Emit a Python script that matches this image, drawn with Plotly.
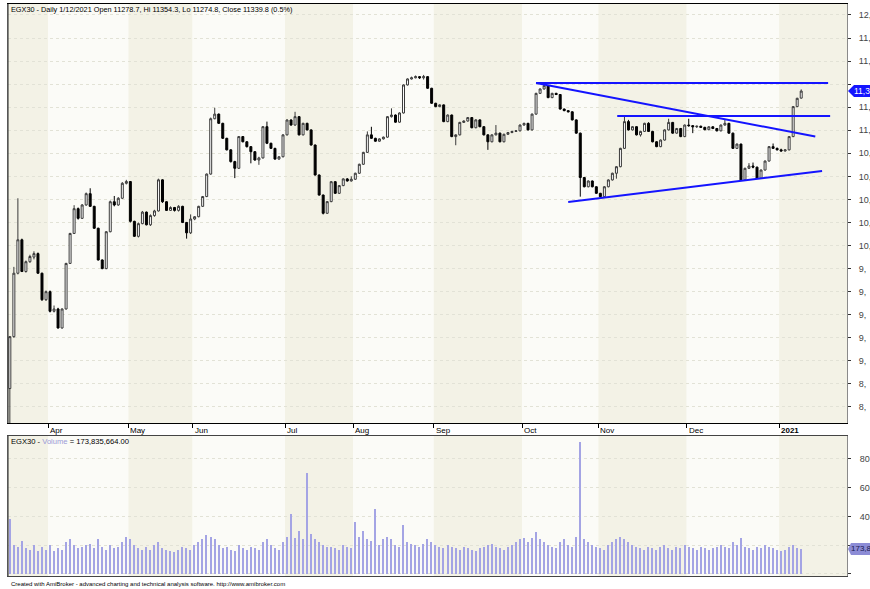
import plotly.graph_objects as go

# ---------------- data (EGX30 daily, bar index 0 = mid-March 2020) ----------------
opens = [8760, 9210, 9760, 10050, 9775, 9860, 9900, 9930, 9760, 9530,
         9600, 9430, 9450, 9285, 9450, 9845, 10105, 10320, 10236, 10352,
         10450, 10340, 10150, 9875, 9800, 10120, 10380, 10352, 10410, 10540,
         10555, 10210, 10080, 10190, 10290, 10180, 10260, 10300, 10570, 10380,
         10305, 10330, 10305, 10340, 10200, 10110, 10230, 10250, 10340, 10425,
         10620, 11100, 11140, 11060, 10930, 10830, 10728, 10670, 10945, 10900,
         10858, 10814, 10742, 10760, 11031, 10887, 10843, 10750, 10770, 10960,
         11089, 11045, 11118, 10960, 11060, 11003, 10872, 10612, 10438, 10280,
         10381, 10554, 10453, 10520, 10578, 10560, 10575, 10627, 10705, 10808,
         10960, 10930, 10905, 10925, 10940, 11118, 11132, 11070, 11150, 11393,
         11445, 11455, 11465, 11455, 11465, 11364, 11234, 11205, 11220, 11075,
         11132, 10945, 10960, 11068, 11080, 11110, 11022, 11090, 11031, 10960,
         10900, 10960, 10975, 10900, 10965, 10980, 10990, 10995, 11045, 11060,
         11003, 11140, 11320, 11358, 11387, 11283, 11320, 11310, 11184, 11170,
         11160, 11090, 10975, 10590, 10510, 10560, 10510, 10453, 10424, 10510,
         10569, 10627, 10684, 10843, 11075, 11003, 11031, 10960, 10990, 11060,
         10990, 10900, 10858, 10915, 11003, 11068, 10975, 11015, 10945, 11045,
         11040, 11030, 11035, 11025, 11005, 11030, 11015, 10995, 11045, 11060,
         10975, 10843, 10880, 10569, 10670, 10690, 10680, 10583, 10655, 10733,
         10858, 10843, 10830, 10820, 10830, 10945, 11205, 11278.7]
highs = [9215, 9815, 10410, 10060, 9870, 9920, 9950, 9940, 9765, 9610,
         9610, 9480, 9460, 9455, 9850, 10110, 10350, 10330, 10360, 10460,
         10497, 10345, 10155, 9880, 10125, 10390, 10430, 10420, 10550, 10570,
         10560, 10215, 10200, 10300, 10295, 10270, 10310, 10580, 10575, 10385,
         10340, 10335, 10350, 10345, 10205, 10270, 10255, 10345, 10430, 10625,
         11110, 11195, 11145, 11065, 10935, 10835, 10735, 10950, 10950, 10905,
         10862, 10818, 10770, 11035, 11075, 10892, 10848, 10775, 10965, 11095,
         11095, 11160, 11122, 11065, 11065, 11008, 10876, 10616, 10442, 10385,
         10560, 10558, 10525, 10583, 10585, 10600, 10632, 10710, 10813, 10990,
         11030, 10935, 10930, 10945, 11123, 11190, 11137, 11155, 11398, 11450,
         11465, 11475, 11470, 11480, 11470, 11368, 11238, 11225, 11224, 11137,
         11136, 10965, 11073, 11085, 11115, 11114, 11095, 11094, 11035, 10964,
         10965, 11045, 10979, 10970, 10985, 10995, 11000, 11050, 11065, 11064,
         11145, 11325, 11363, 11400, 11391, 11325, 11325, 11314, 11188, 11175,
         11164, 11094, 10979, 10594, 10565, 10564, 10514, 10457, 10515, 10574,
         10632, 10689, 10848, 11120, 11090, 11036, 11035, 10995, 11065, 11070,
         10995, 10905, 10920, 11008, 11100, 11072, 11020, 11020, 11050, 11100,
         11045, 11040, 11040, 11030, 11035, 11035, 11020, 11050, 11095, 11064,
         10979, 10885, 10884, 10675, 10715, 10720, 10684, 10660, 10738, 10863,
         10885, 10850, 10840, 10835, 10950, 11210, 11282, 11354.3]
lows = [8420, 9200, 9750, 9770, 9765, 9850, 9880, 9755, 9520, 9520,
        9420, 9420, 9280, 9280, 9445, 9840, 10100, 10225, 10230, 10345,
        10335, 10145, 9870, 9795, 9795, 10115, 10340, 10345, 10405, 10530,
        10200, 10075, 10070, 10185, 10175, 10170, 10250, 10295, 10370, 10300,
        10300, 10295, 10295, 10195, 10060, 10100, 10220, 10245, 10335, 10420,
        10615, 11095, 11055, 10925, 10825, 10720, 10585, 10665, 10895, 10850,
        10713, 10735, 10700, 10755, 10880, 10838, 10745, 10745, 10765, 10955,
        11040, 11040, 10955, 10955, 10998, 10867, 10607, 10433, 10270, 10275,
        10376, 10448, 10448, 10515, 10555, 10555, 10570, 10622, 10700, 10803,
        10925, 10900, 10900, 10920, 10935, 11110, 11065, 11065, 11145, 11388,
        11440, 11450, 11445, 11440, 11359, 11229, 11200, 11200, 11070, 11070,
        10940, 10870, 10955, 11063, 11075, 11017, 11017, 11026, 10955, 10830,
        10895, 10955, 10895, 10895, 10960, 10975, 10985, 10990, 11040, 10998,
        10998, 11135, 11315, 11353, 11278, 11278, 11305, 11179, 11165, 11155,
        11085, 10970, 10424, 10505, 10505, 10505, 10448, 10419, 10419, 10505,
        10564, 10580, 10679, 10838, 10998, 10998, 10955, 10945, 10985, 10985,
        10895, 10853, 10853, 10910, 10998, 10970, 10970, 10940, 10940, 11030,
        10975, 11020, 11020, 11000, 11000, 11010, 10990, 10990, 11040, 10970,
        10838, 10838, 10564, 10560, 10665, 10670, 10578, 10578, 10650, 10728,
        10838, 10825, 10815, 10815, 10825, 10940, 11200, 11274.8]
closes = [9210, 9760, 10050, 9775, 9860, 9905, 9930, 9760, 9530, 9600,
          9430, 9450, 9285, 9450, 9845, 10105, 10320, 10236, 10352, 10450,
          10340, 10150, 9875, 9800, 10120, 10380, 10352, 10410, 10540, 10555,
          10210, 10080, 10190, 10290, 10180, 10260, 10300, 10570, 10380, 10305,
          10330, 10305, 10340, 10200, 10110, 10230, 10250, 10340, 10425, 10620,
          11100, 11140, 11060, 10930, 10830, 10728, 10670, 10945, 10900, 10858,
          10814, 10742, 10760, 11031, 10887, 10843, 10750, 10770, 10960, 11089,
          11045, 11118, 10960, 11060, 11003, 10872, 10612, 10438, 10280, 10381,
          10554, 10453, 10520, 10578, 10560, 10575, 10627, 10705, 10808, 10960,
          10930, 10905, 10925, 10940, 11118, 11132, 11070, 11150, 11393, 11445,
          11455, 11465, 11455, 11465, 11364, 11234, 11205, 11220, 11075, 11132,
          10945, 10960, 11068, 11080, 11110, 11022, 11090, 11031, 10960, 10900,
          10960, 10975, 10900, 10965, 10980, 10990, 10995, 11045, 11060, 11003,
          11140, 11320, 11358, 11387, 11283, 11320, 11310, 11184, 11170, 11160,
          11090, 10975, 10590, 10510, 10560, 10510, 10453, 10424, 10510, 10569,
          10627, 10684, 10843, 11075, 11003, 11031, 10960, 10990, 11060, 10990,
          10900, 10858, 10915, 11003, 11068, 10975, 11015, 10945, 11045, 11040,
          11030, 11035, 11025, 11005, 11030, 11015, 10995, 11045, 11060, 10975,
          10843, 10880, 10569, 10670, 10690, 10680, 10583, 10655, 10733, 10858,
          10843, 10830, 10820, 10830, 10945, 11205, 11277, 11339.8]
# volume in millions of shares
volumes_m = [380, 200, 190, 230, 180, 170, 200, 160, 190, 170,
             200, 160, 180, 170, 220, 240, 200, 180, 190, 200,
             210, 180, 240, 190, 170, 200, 180, 190, 220, 260,
             240, 200, 180, 170, 190, 170, 200, 220, 180, 170,
             160, 150, 170, 190, 180, 170, 200, 220, 240, 270,
             260, 240, 200, 180, 190, 170, 160, 200, 180, 170,
             190, 180, 170, 220, 240, 200, 180, 170, 220, 260,
             420, 250, 300, 240, 700, 280, 240, 220, 200, 190,
             190, 180, 170, 200, 190, 180, 360, 260, 300, 240,
             230, 455, 200, 240, 260, 240, 200, 190, 340, 220,
             210, 200, 190, 210, 240, 220, 200, 190, 180, 200,
             190, 180, 170, 190, 180, 170, 160, 180, 190, 200,
             210, 190, 180, 170, 190, 200, 220, 240, 250, 220,
             250, 290, 240, 220, 200, 190, 180, 220, 240, 200,
             190, 260, 920, 240, 220, 200, 190, 180, 170, 200,
             220, 240, 260, 240, 220, 200, 190, 180, 170, 190,
             180, 170, 190, 200, 180, 170, 190, 180, 200, 190,
             180, 170, 190, 180, 170, 180, 190, 200, 190, 180,
             220, 200, 250, 190, 180, 170, 190, 180, 200, 190,
             180, 170, 160, 170, 190, 200, 180, 173.835664]

month_labels = ["Apr", "May", "Jun", "Jul", "Aug", "Sep", "Oct", "Nov", "Dec", "2021"]
month_start_bar = [10, 30, 46, 69, 86, 106, 128, 147, 169, 192]
price_ticks = [8600, 8800, 9000, 9200, 9400, 9600, 9800, 10000, 10200, 10400,
               10600, 10800, 11000, 11200, 11400, 11600, 11800, 12000]
# right-hand labels as far as they are visible at the window edge
# (the 11,400 label sits under the last-close marker)
price_tick_labels = ["8,", "8,", "9,", "9,", "9,", "9,", "9,", "10,", "10,", "10,",
                     "10,", "10,", "11,", "11,", "", "11,", "11,", "12,"]
vol_ticks = [0, 200, 400, 600, 800]
vol_tick_labels = ["", "", "40", "60", "80"]
last_close_label = "11,3"
last_volume_label = "173,8"

# trend lines drawn by the analyst: (bar index, price) pairs
trend_lines = [
    ((131.0, 11410), (203.7, 11410)),
    ((131.0, 11410), (200.5, 10946)),
    ((151.2, 11124), (204.2, 11124)),
    ((139.0, 10378), (202.2, 10647)),
]

title_text = "EGX30 - Daily 1/12/2021 Open 11278.7, Hi 11354.3, Lo 11274.8, Close 11339.8 (0.5%)"
last_volume_text = "173,835,664.00"
footer_text = "Created with AmiBroker - advanced charting and technical analysis software. http://www.amibroker.com"

# ---------------- figure ----------------
W, H = 870, 589
M_L, M_R, M_T, M_B = 8, 23, 4, 13
plot_h = H - M_T - M_B


def px_to_paper(ypx):
    return (H - M_B - ypx) / plot_h


price_dom = [px_to_paper(423), 1.0]
vol_dom = [0.0, px_to_paper(436)]

XR = [-0.46, 208.4]
FONT = "Liberation Sans, Arial, sans-serif"
BEIGE = "#f3f2e6"
LIGHT = "#fbfbf7"
VOL_COLOR = "#a4a4e4"
BLUE = "#1414ff"

n = len(closes)
idx = list(range(n))

fig = go.Figure()
fig.add_trace(go.Candlestick(
    x=idx, open=opens, high=highs, low=lows, close=closes,
    increasing=dict(line=dict(color="#3a3a3a", width=1), fillcolor="#ffffff"),
    decreasing=dict(line=dict(color="#000000", width=1), fillcolor="#000000"),
    whiskerwidth=0, xaxis="x", yaxis="y", showlegend=False, hoverinfo="skip"))

fig.add_trace(go.Bar(
    x=idx, y=volumes_m, width=0.35, marker=dict(color=VOL_COLOR, line=dict(width=0)),
    xaxis="x2", yaxis="y2", showlegend=False, hoverinfo="skip"))

shapes = []
bounds = [XR[0]] + [b - 0.5 for b in month_start_bar] + [XR[1]]
for k in range(len(bounds) - 1):
    col = BEIGE if k % 2 == 0 else LIGHT
    for yr in ("y domain", "y2 domain"):
        shapes.append(dict(type="rect", xref="x", yref=yr, x0=bounds[k], x1=bounds[k + 1],
                           y0=0, y1=1, fillcolor=col, line=dict(width=0), layer="below"))

# dark left border of both panes
for yr in ("y domain", "y2 domain"):
    shapes.append(dict(type="line", xref="paper", yref=yr, x0=0, x1=0, y0=0, y1=1,
                       line=dict(color="#222", width=1), layer="above"))

for (x0, y0), (x1, y1) in trend_lines:
    shapes.append(dict(type="line", xref="x", yref="y", x0=x0, y0=y0, x1=x1, y1=y1,
                       line=dict(color=BLUE, width=2), layer="above"))

# value markers on the right axes
shapes.append(dict(type="path", xref="paper", yref="y", xsizemode="pixel", ysizemode="pixel",
                   xanchor=1, yanchor=closes[-1],
                   path="M1,0 L7,6 L60,6 L60,-6 L7,-6 Z",
                   fillcolor=BLUE, line=dict(width=0), layer="above"))
shapes.append(dict(type="path", xref="paper", yref="y2", xsizemode="pixel", ysizemode="pixel",
                   xanchor=1, yanchor=volumes_m[-1],
                   path="M1,0 L4,6 L60,6 L60,-6 L4,-6 Z",
                   fillcolor="#8c8cd6", line=dict(width=0), layer="above"))

annotations = [
    dict(text=title_text, xref="paper", yref="paper", x=0, y=px_to_paper(9), xanchor="left",
         yanchor="middle", xshift=1, showarrow=False,
         font=dict(size=7.3, color="#000", family=FONT)),
    dict(text="EGX30 - <span style='color:#9a9ad6'>Volume</span> = " + last_volume_text,
         xref="paper", yref="paper", x=0, y=px_to_paper(441), xanchor="left", yanchor="middle",
         xshift=1, showarrow=False, font=dict(size=7.6, color="#000", family=FONT)),
    dict(text=footer_text, xref="paper", yref="paper", x=0, y=px_to_paper(584), xanchor="left",
         yanchor="middle", xshift=1, showarrow=False, font=dict(size=6, color="#000", family=FONT)),
    dict(text=last_close_label, xref="paper", yref="y", x=1, y=closes[-1], xanchor="left",
         yanchor="middle", xshift=5, showarrow=False,
         font=dict(size=8.5, color="#fff", family=FONT)),
    dict(text=last_volume_label, xref="paper", yref="y2", x=1, y=volumes_m[-1],
         xanchor="left", yanchor="middle", xshift=2, showarrow=False,
         font=dict(size=8, color="#1a1a50", family=FONT)),
]
for lab, b in zip(month_labels, month_start_bar):
    annotations.append(dict(text=("<b>%s</b>" % lab) if lab == "2021" else lab,
                            xref="x", yref="paper", x=b - 0.5, y=px_to_paper(430),
                            xanchor="left", yanchor="middle", xshift=0, showarrow=False,
                            font=dict(size=8, color="#000", family=FONT)))

fig.update_layout(
    width=W, height=H, margin=dict(l=M_L, r=M_R, t=M_T, b=M_B),
    paper_bgcolor="#ffffff", plot_bgcolor="rgba(0,0,0,0)",
    template="none", showlegend=False, bargap=0, dragmode=False,
    shapes=shapes, annotations=annotations,
    xaxis=dict(domain=[0, 1], range=XR, anchor="y", tickvals=[b - 0.5 for b in month_start_bar],
               ticks="outside", ticklen=4, tickcolor="#000", showticklabels=False,
               showgrid=False, zeroline=False, showline=True, linecolor="#000", linewidth=1,
               mirror=True, rangeslider=dict(visible=False), fixedrange=True),
    yaxis=dict(domain=price_dom, range=[8461, 12095], side="right", anchor="x",
               tickvals=price_ticks, ticktext=price_tick_labels, ticks="outside", ticklen=3,
               ticklabelstandoff=6, tickcolor="#333",
               tickfont=dict(size=9, color="#444", family=FONT),
               showgrid=True, gridcolor="#e2e2d6", griddash="dot", gridwidth=1,
               zeroline=False, showline=True, linecolor="#8a8a8a", mirror=True,
               automargin=False, fixedrange=True),
    xaxis2=dict(domain=[0, 1], range=XR, anchor="y2", matches="x", showticklabels=False,
                ticks="", showgrid=False, zeroline=False, showline=True, linecolor="#444",
                mirror=True, fixedrange=True),
    yaxis2=dict(domain=vol_dom, range=[-14, 959], side="right", anchor="x2",
                tickvals=vol_ticks, ticktext=vol_tick_labels, ticks="outside", ticklen=3,
                ticklabelstandoff=7, tickcolor="#333",
                tickfont=dict(size=9, color="#444", family=FONT),
                showgrid=True, gridcolor="#e2e2d6", griddash="dot", zeroline=False,
                showline=True, linecolor="#8a8a8a", mirror=True, automargin=False,
                fixedrange=True),
)

fig.write_html("out.html", config={"displayModeBar": False},
               post_script="document.body.style.margin='0';document.body.style.overflow='hidden';")
